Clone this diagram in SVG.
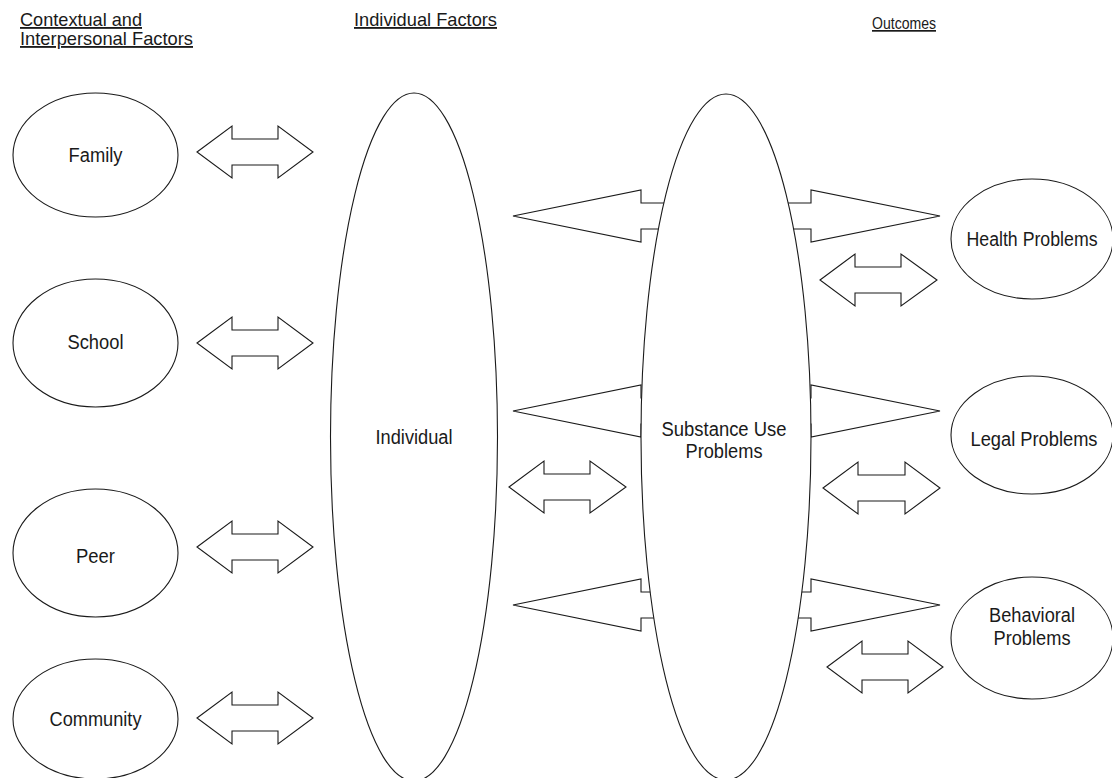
<svg xmlns="http://www.w3.org/2000/svg" width="1112" height="778" viewBox="0 0 1112 778">
<style>
.bg{fill:#ffffff}
.node{fill:#ffffff;stroke:#1a1a1a;stroke-width:1.1}
.arr{fill:#ffffff;stroke:#1a1a1a;stroke-width:1.1;stroke-linejoin:miter}
.lbl{font-family:"Liberation Sans",Arial,sans-serif;font-size:20px;fill:#1a1a1a;text-anchor:middle}
.hdr{font-family:"Liberation Sans",Arial,sans-serif;font-size:18.4px;fill:#1a1a1a;text-decoration:underline}
</style>
<rect class="bg" x="0" y="0" width="1112" height="778"/>
<g id="headers">
<text class="hdr" x="20" y="26" textLength="122" lengthAdjust="spacingAndGlyphs">Contextual and</text>
<text class="hdr" x="20" y="45" textLength="173" lengthAdjust="spacingAndGlyphs">Interpersonal Factors</text>
<text class="hdr" x="354" y="26" textLength="143" lengthAdjust="spacingAndGlyphs">Individual Factors</text>
<text class="hdr" x="872" y="29" style="font-size:17px" textLength="64" lengthAdjust="spacingAndGlyphs">Outcomes</text>
</g>
<g id="connectors">
<polygon class="arr" points="513,216 641,190 641,203 811,203 811,190 940,216 811,242 811,229 641,229 641,242"/>
<polygon class="arr" points="513,411 641,385 641,398 811,398 811,385 940,411 811,437 811,424 641,424 641,437"/>
<polygon class="arr" points="513,605 641,579 641,592 811,592 811,579 940,605 811,631 811,618 641,618 641,631"/>
<polygon class="arr" points="197,152 232,126 232,139 278,139 278,126 313,152 278,178 278,165 232,165 232,178"/>
<polygon class="arr" points="197,343 232,317 232,330 278,330 278,317 313,343 278,369 278,356 232,356 232,369"/>
<polygon class="arr" points="197,547 232,521 232,534 278,534 278,521 313,547 278,573 278,560 232,560 232,573"/>
<polygon class="arr" points="197,718 232,692 232,705 278,705 278,692 313,718 278,744 278,731 232,731 232,744"/>
<polygon class="arr" points="509,487 544,461 544,474 590,474 590,461 626,487 590,513 590,500 544,500 544,513"/>
<polygon class="arr" points="820,280 855,254 855,267 901,267 901,254 937,280 901,306 901,293 855,293 855,306"/>
<polygon class="arr" points="823,488 858,462 858,475 905,475 905,462 940,488 905,514 905,501 858,501 858,514"/>
<polygon class="arr" points="827,667 862,641 862,654 908,654 908,641 943,667 908,693 908,680 862,680 862,693"/>
</g>
<g id="family"><ellipse class="node" cx="95.5" cy="155" rx="82.5" ry="62"/><text class="lbl" x="95.5" y="162" textLength="54" lengthAdjust="spacingAndGlyphs">Family</text></g>
<g id="school"><ellipse class="node" cx="95.5" cy="343" rx="82.5" ry="64"/><text class="lbl" x="95.5" y="349" textLength="56" lengthAdjust="spacingAndGlyphs">School</text></g>
<g id="peer"><ellipse class="node" cx="95.5" cy="553" rx="82.5" ry="64"/><text class="lbl" x="95.5" y="563" textLength="39" lengthAdjust="spacingAndGlyphs">Peer</text></g>
<g id="community"><ellipse class="node" cx="95.5" cy="719" rx="82.5" ry="60"/><text class="lbl" x="95.5" y="726" textLength="92" lengthAdjust="spacingAndGlyphs">Community</text></g>
<g id="individual"><ellipse class="node" cx="414" cy="437" rx="83.5" ry="344"/><text class="lbl" x="414" y="444" textLength="77" lengthAdjust="spacingAndGlyphs">Individual</text></g>
<g id="substance"><ellipse class="node" cx="726" cy="437" rx="85" ry="343"/><text class="lbl" x="724" y="436" textLength="125" lengthAdjust="spacingAndGlyphs">Substance Use</text><text class="lbl" x="724" y="458" textLength="77" lengthAdjust="spacingAndGlyphs">Problems</text></g>
<g id="health"><ellipse class="node" cx="1032" cy="239" rx="81" ry="60"/><text class="lbl" x="1032" y="246" textLength="131" lengthAdjust="spacingAndGlyphs">Health Problems</text></g>
<g id="legal"><ellipse class="node" cx="1032" cy="435" rx="81" ry="59"/><text class="lbl" x="1034" y="446" textLength="127" lengthAdjust="spacingAndGlyphs">Legal Problems</text></g>
<g id="behavioral"><ellipse class="node" cx="1032" cy="638" rx="81" ry="61"/><text class="lbl" x="1032" y="622" textLength="86" lengthAdjust="spacingAndGlyphs">Behavioral</text><text class="lbl" x="1032" y="645" textLength="77" lengthAdjust="spacingAndGlyphs">Problems</text></g>
</svg>
